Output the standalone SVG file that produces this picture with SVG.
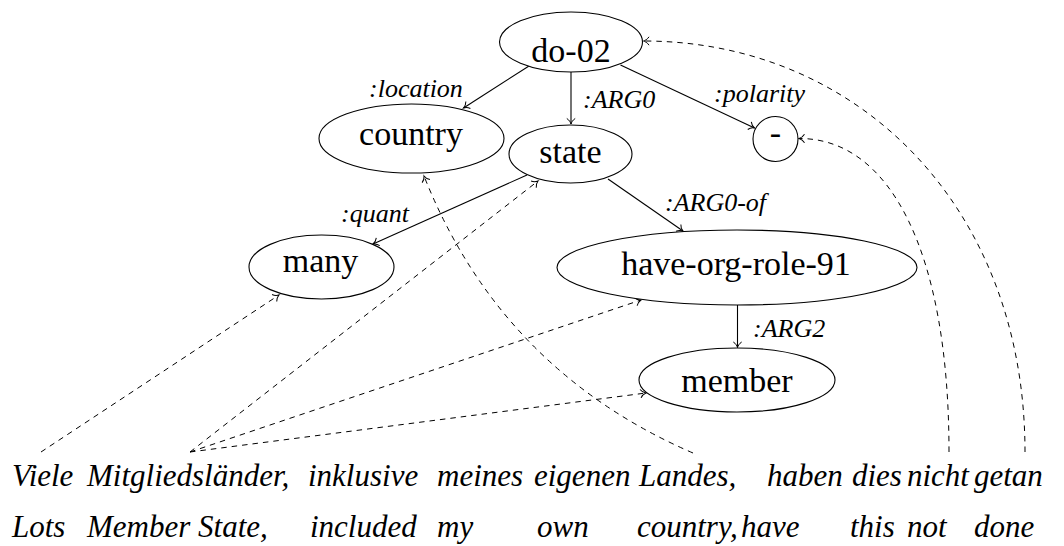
<svg xmlns="http://www.w3.org/2000/svg" width="1064" height="546" viewBox="0 0 1064 546" font-family="Times New Roman, serif">
  <style>
    .node ellipse, .node circle { fill: #fff; stroke: #000; stroke-width: 1.1; }
    .nlabel { font-size: 34px; text-anchor: middle; fill: #000; }
    .elabel { font-size: 26px; font-style: italic; fill: #000; }
    .word { font-size: 31px; font-style: italic; fill: #000; }
    .edge { fill: none; stroke: #000; stroke-width: 1.1; marker-end: url(#tip); }
    .align { fill: none; stroke: #000; stroke-width: 1; stroke-dasharray: 5.5 5; marker-end: url(#tip); }
  </style>
  <defs>
    <marker id="tip" viewBox="-7 -6 9 12" refX="0" refY="0" markerWidth="9" markerHeight="12" orient="auto" markerUnits="userSpaceOnUse">
      <path d="M-5.5,-4.2 C-4,-1.7 -1.4,-0.4 0,0 C-1.4,0.4 -4,1.7 -5.5,4.2" fill="none" stroke="#000" stroke-width="1" stroke-dasharray="none"/>
    </marker>
  </defs>

  <rect width="1064" height="546" fill="#fff"/>

  <!-- connectors: graph edges and word alignments -->
  <g id="connectors">
    <path class="edge" d="M529,66 L463.5,108"/>
    <path class="edge" d="M571,72 L571,124"/>
    <path class="edge" d="M620.5,65 L754.5,128"/>
    <path class="edge" d="M527,175 L373,244"/>
    <path class="edge" d="M608,179 L683,231"/>
    <path class="edge" d="M737.5,305 L737.5,347.5"/>

    <path class="align" d="M41,452 L279,295"/>
    <path class="align" d="M190,452 L538,181"/>
    <path class="align" d="M190,452 L641,300"/>
    <path class="align" d="M190,452 L646,393"/>
    <path class="align" d="M693,453 Q501,370 424,176"/>
    <path class="align" d="M949,452 C949,252 890,138 799,138.5"/>
    <path class="align" d="M1025,452 C1025,207 858,41 643.5,41"/>
  </g>

  <!-- edge labels -->
  <g id="edge-labels">
    <text class="elabel" x="369" y="97">:location</text>
    <text class="elabel" x="583" y="108">:ARG0</text>
    <text class="elabel" x="714" y="102">:polarity</text>
    <text class="elabel" x="341" y="222">:quant</text>
    <text class="elabel" x="665" y="211">:ARG0-of</text>
    <text class="elabel" x="753" y="337">:ARG2</text>
  </g>

  <!-- concept nodes -->
  <g id="node-do-02" class="node">
    <ellipse cx="571" cy="42" rx="71.5" ry="30"/>
    <text class="nlabel" x="571" y="62">do-02</text>
  </g>
  <g id="node-country" class="node">
    <ellipse cx="411.5" cy="138.5" rx="92.5" ry="34.5"/>
    <text class="nlabel" x="411" y="145">country</text>
  </g>
  <g id="node-state" class="node">
    <ellipse cx="570.5" cy="154" rx="61.5" ry="29"/>
    <text class="nlabel" x="570.5" y="163">state</text>
  </g>
  <g id="node-polarity" class="node">
    <circle cx="775.5" cy="139" r="22.5"/>
    <text class="nlabel" x="775.5" y="144">-</text>
  </g>
  <g id="node-many" class="node">
    <ellipse cx="321.5" cy="267" rx="72.5" ry="32"/>
    <text class="nlabel" x="320.5" y="272">many</text>
  </g>
  <g id="node-have-org-role-91" class="node">
    <ellipse cx="737" cy="267.5" rx="180" ry="37.5"/>
    <text class="nlabel" x="736" y="275">have-org-role-91</text>
  </g>
  <g id="node-member" class="node">
    <ellipse cx="737" cy="380" rx="98" ry="32"/>
    <text class="nlabel" x="737" y="392">member</text>
  </g>

  <!-- German sentence -->
  <g id="sentence-de">
    <text class="word" x="12" y="486">Viele</text>
    <text class="word" x="87" y="486">Mitgliedsländer,</text>
    <text class="word" x="308" y="486">inklusive</text>
    <text class="word" x="437" y="486">meines</text>
    <text class="word" x="534" y="486">eigenen</text>
    <text class="word" x="639" y="486">Landes,</text>
    <text class="word" x="767" y="486">haben</text>
    <text class="word" x="852" y="486">dies</text>
    <text class="word" x="907" y="486">nicht</text>
    <text class="word" x="974" y="486">getan</text>
  </g>

  <!-- English gloss -->
  <g id="sentence-en">
    <text class="word" x="12" y="537">Lots</text>
    <text class="word" x="87" y="537">Member State,</text>
    <text class="word" x="310" y="537">included</text>
    <text class="word" x="437" y="537">my</text>
    <text class="word" x="537" y="537">own</text>
    <text class="word" x="637" y="537">country,</text>
    <text class="word" x="741" y="537">have</text>
    <text class="word" x="850" y="537">this</text>
    <text class="word" x="907" y="537">not</text>
    <text class="word" x="974" y="537">done</text>
  </g>
</svg>
